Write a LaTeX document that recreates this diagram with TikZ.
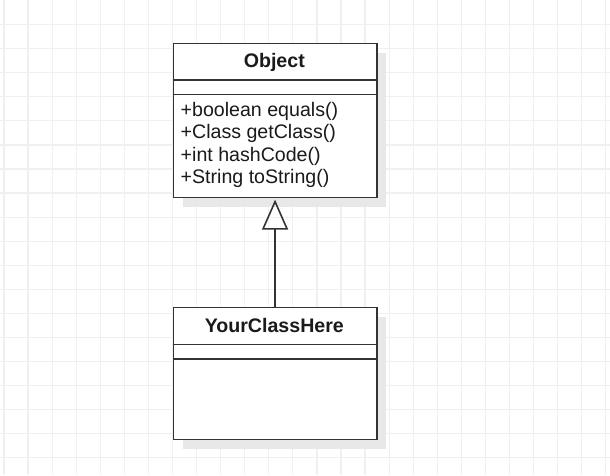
\documentclass[tikz,border=0pt]{standalone}
\usepackage{fontspec}
\setmainfont{Liberation Sans}
\usetikzlibrary{arrows.meta}
\definecolor{gridc}{HTML}{F0F0F0}
\definecolor{shadowc}{HTML}{E8E8E8}
\definecolor{linec}{HTML}{333333}
\definecolor{textc}{HTML}{1A1A1A}
\tikzset{
  umlbox/.style={draw=linec, line width=1.6pt, fill=white, rectangle, inner sep=0pt, anchor=north west},
  umlshadow/.style={fill=shadowc, draw=none},
  title/.style={font=\fontsize{19.6}{22.2}\selectfont\bfseries, text=textc, anchor=base, inner sep=0pt},
  member/.style={font=\fontsize{19.6}{22.2}\selectfont, text=textc, anchor=base west, inner sep=0pt},
  inherit/.style={draw=linec, line width=1.6pt, -{Triangle[open, length=30pt, width=26pt, line width=1.6pt]}}
}
\begin{document}
\begin{tikzpicture}[x=1pt,y=-1pt]
\useasboundingbox (0,0) rectangle (610,475);
\fill[white] (0,0) rectangle (610,475);
% grid
\foreach \k in {0,...,25} { \draw[gridc, line width=1.2pt] ({4+24.07*\k},0) -- ({4+24.07*\k},475); }
\foreach \k in {1,...,19} { \draw[gridc, line width=1.2pt] (0,{0.5+24.07*\k}) -- (610,{0.5+24.07*\k}); }
% shadows
\fill[umlshadow] (182.5,52.5) rectangle (386,206.5);
\fill[umlshadow] (182.5,316.5) rectangle (386,448.5);
% Object class
\node[umlbox, minimum width=203.5pt, minimum height=154pt] (obj) at (172.5,42.5) {};
\draw[linec, line width=1.6pt] (172.5,80) coordinate (o1) -- (376,80) coordinate (o2);
\draw[linec, line width=1.6pt] (172.5,94.5) coordinate (o3) -- (376,94.5) coordinate (o4);
\node[title] (objname) at (274.3,67.8) {Object};
\node[member] (m1) at (180.5,116.7) {+boolean equals()};
\node[member] (m2) at (180.5,138.9) {+Class getClass()};
\node[member] (m3) at (180.5,161.1) {+int hashCode()};
\node[member] (m4) at (180.5,183.3) {+String toString()};
% YourClassHere
\node[umlbox, minimum width=203.5pt, minimum height=132pt] (your) at (172.5,306.5) {};
\draw[linec, line width=1.6pt] (172.5,344.5) coordinate (y1) -- (376,344.5) coordinate (y2);
\draw[linec, line width=1.6pt] (172.5,359) coordinate (y3) -- (376,359) coordinate (y4);
\node[title] (yourname) at (274.3,332.4) {YourClassHere};
% inheritance
\draw[inherit] (your.north) -- ([yshift=-1.5pt]obj.south);
\end{tikzpicture}
\end{document}
